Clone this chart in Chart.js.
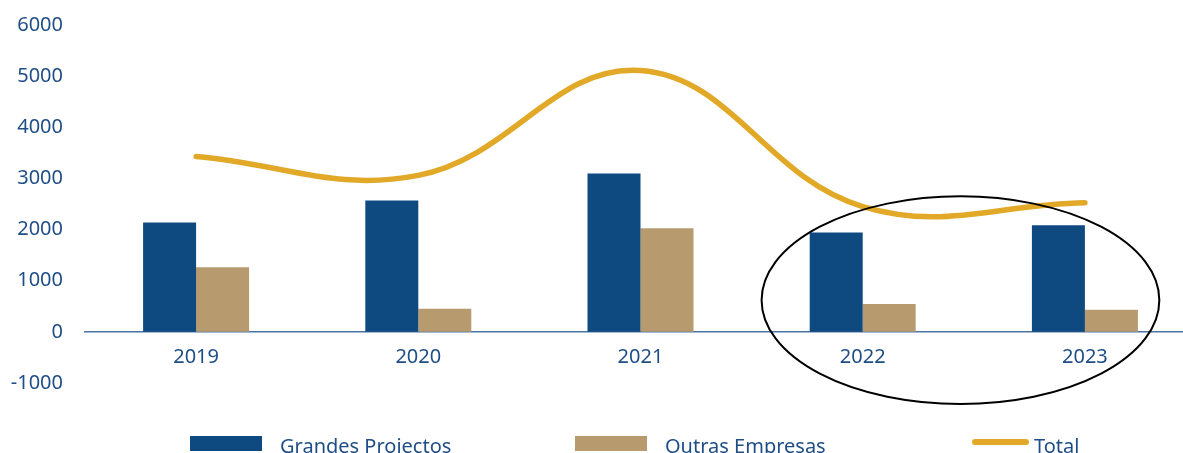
<!DOCTYPE html>
<html>
<head>
<meta charset="utf-8">
<script src="https://cdn.jsdelivr.net/npm/chart.js@4.4.1/dist/chart.umd.min.js"></script>
<style>
  html, body { margin: 0; padding: 0; background: #fff; overflow: hidden; }
  #wrap { position: relative; width: 1200px; height: 453px; overflow: hidden; }
  #chart { display: block; position: absolute; left: 0; top: -9px; }
  .legend { position: absolute; top: 0; left: 0; font-family: "Noto Sans", sans-serif; font-size: 20px; color: #1f4e86; }
  .box { position: absolute; width: 72px; height: 15px; top: 436px; }
  .txt { position: absolute; top: 432px; white-space: nowrap; line-height: 28px; }
</style>
</head>
<body>
<div id="wrap">
  <canvas id="chart" width="1200" height="464"></canvas>
  <div class="legend">
    <div class="box" style="left:190px;background:#0e4a80"></div>
    <div class="txt" style="left:280px">Grandes Projectos</div>
    <div class="box" style="left:575px;background:#b89a6f"></div>
    <div class="txt" style="left:665px">Outras Empresas</div>
    <div class="box" style="left:972px;top:439px;width:57px;height:6px;border-radius:3px;background:#e2a929"></div>
    <div class="txt" style="left:1034px">Total</div>
  </div>
</div>
<script>
const years = ["2019", "2020", "2021", "2022", "2023"];
const grandesProjectos = [2140, 2570, 3095, 1945, 2085];
const outrasEmpresas = [1265, 450, 2025, 545, 430];
const total = [3430, 3060, 5110, 2450, 2525];
const yTicks = [-1000, 0, 1000, 2000, 3000, 4000, 5000, 6000];

const textColor = "#1f4e86";

// black ring drawn around 2022-2023
const ellipsePlugin = {
  id: "ellipse",
  afterDatasetsDraw(chart) {
    const x = chart.scales.x;
    const y = chart.scales.y;
    const step = x.getPixelForValue(4) - x.getPixelForValue(3);
    const cx = x.getPixelForValue(3) + 0.44 * step;
    const cy = y.getPixelForValue(620);
    const rx = 0.895 * step;
    const ry = y.getPixelForValue(0) - y.getPixelForValue(2030);
    const ctx = chart.ctx;
    ctx.save();
    ctx.beginPath();
    ctx.ellipse(cx, cy, rx, ry, 0, 0, Math.PI * 2);
    ctx.lineWidth = 2;
    ctx.strokeStyle = "#000";
    ctx.stroke();
    ctx.restore();
  }
};

function renderChart() {
  const ctx = document.getElementById("chart").getContext("2d");
  new Chart(ctx, {
    data: {
      labels: years,
      datasets: [
        {
          type: "line",
          label: "Total",
          data: total,
          borderColor: "#e2a929",
          borderWidth: 5.5,
          borderCapStyle: "round",
          tension: 0.4,
          pointRadius: 0,
          fill: false,
          order: 0
        },
        {
          type: "bar",
          label: "Grandes Projectos",
          data: grandesProjectos,
          backgroundColor: "#0e4a80",
          barPercentage: 1,
          categoryPercentage: 0.477,
          order: 1
        },
        {
          type: "bar",
          label: "Outras Empresas",
          data: outrasEmpresas,
          backgroundColor: "#b89a6f",
          barPercentage: 1,
          categoryPercentage: 0.477,
          order: 1
        }
      ]
    },
    options: {
      responsive: false,
      animation: false,
      layout: { padding: { left: 10, right: 4, top: 13, bottom: 72 } },
      plugins: {
        legend: { display: false },
        tooltip: { enabled: false }
      },
      scales: {
        x: {
          position: { y: 0 },
          grid: { display: false, drawTicks: false },
          border: { display: true, color: "#4a75a3", width: 1.5 },
          ticks: {
            color: textColor,
            padding: 13,
            font: { family: "Noto Sans", size: 20 }
          }
        },
        y: {
          min: -1000,
          max: 6000,
          afterBuildTicks: scale => { scale.ticks = yTicks.map(v => ({ value: v })); },
          afterFit: scale => { scale.width = 75; },
          grid: { display: false, drawTicks: false },
          border: { display: false },
          ticks: {
            color: textColor,
            padding: 22,
            callback: value => String(value),
            font: { family: "Noto Sans", size: 20 }
          }
        }
      }
    },
    plugins: [ellipsePlugin]
  });
}

window.addEventListener("DOMContentLoaded", renderChart);
</script>
</body>
</html>
